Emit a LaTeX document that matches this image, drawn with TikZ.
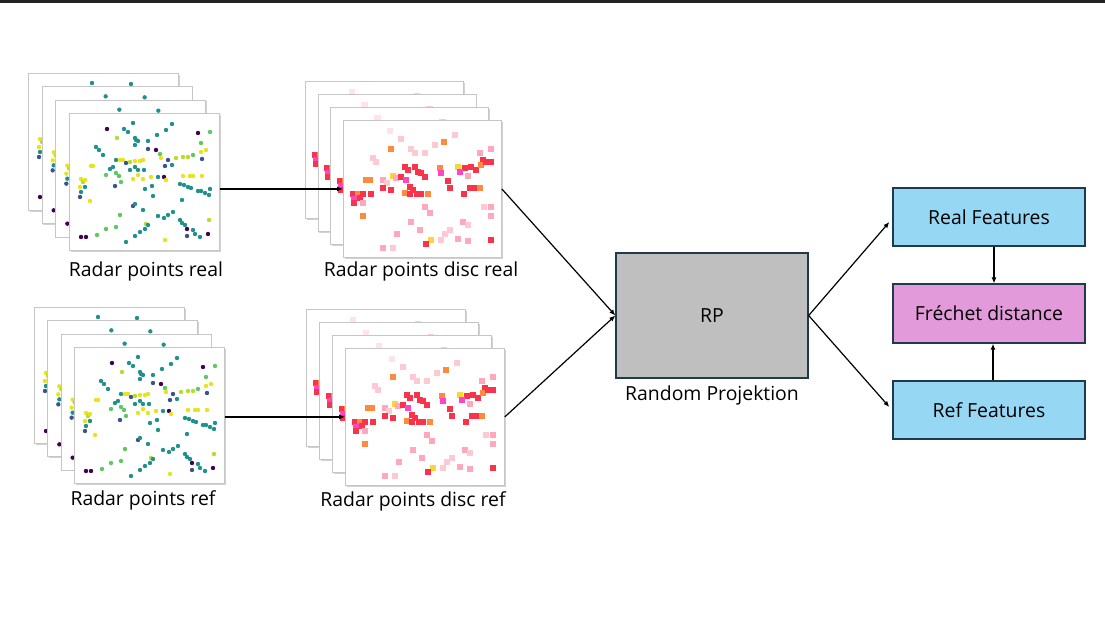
\documentclass[tikz,border=0pt]{standalone}
\usepackage{fontspec}
\setmainfont{Open Sans}
\usetikzlibrary{arrows.meta,shadows}
\definecolor{vP}{HTML}{440154}
\definecolor{vB}{HTML}{3B528B}
\definecolor{vT}{HTML}{21918C}
\definecolor{vL}{HTML}{5EC962}
\definecolor{vY}{HTML}{E8E419}
\definecolor{vYG}{HTML}{B5DE2B}
\definecolor{hL}{HTML}{FFE3E8}
\definecolor{hP}{HTML}{FFC9D3}
\definecolor{hK}{HTML}{FFA8BB}
\definecolor{hR}{HTML}{F8334A}
\definecolor{hO}{HTML}{FF8A3D}
\definecolor{hY}{HTML}{FFD43B}
\definecolor{hM}{HTML}{FF45C5}
\definecolor{boxline}{HTML}{1F3A4A}
\definecolor{rpfill}{HTML}{BFBFBF}
\definecolor{featfill}{HTML}{96D8F4}
\definecolor{frfill}{HTML}{E29ADB}
\definecolor{topbar}{HTML}{222222}
\newcommand\scatterdots{%
\foreach \x/\y/\c in {38/16/vP, 55/16/vT, 59/19/vT, 64/10/vT, 48/25/vYG, 66/25/vT, 67/27/vT, 69/28/vT, 79/28/vT, 88/22/vT, 97/17/vT, 103/11/vT, 129/20/vP, 141/19/vL, 132/30/vL, 27/34/vT, 30/37/vT, 34/42/vT, 66/32/vT, 79/36/vB, 87/37/vP, 91/41/vL, 92/45/vY, 99/47/vB, 96/53/vB, 103/52/vT, 107/45/vYG, 114/44/vYG, 119/44/vYG, 124/42/vL, 132/39/vY, 137/37/vY, 133/46/vB, 22/53/vY, 24/53/vY, 12/66/vY, 14/69/vYG, 11/74/vY, 16/67/vY, 47/47/vT, 51/47/vY, 54/47/vY, 57/50/vB, 61/49/vYG, 66/48/vY, 71/48/vY, 74/47/vY, 41/56/vT, 44/54/vT, 37/62/vL, 47/60/vL, 50/63/vL, 52/69/vL, 61/57/vT, 66/54/vT, 69/57/vT, 64/66/vY, 69/62/vY, 74/66/vY, 75/57/vT, 82/64/vY, 89/64/vT, 95/64/vP, 97/67/vY, 114/63/vY, 121/63/vY, 124/63/vY, 133/63/vY, 16/74/vT, 12/79/vT, 11/84/vB, 21/88/vY, 46/73/vB, 76/76/vT, 83/73/vT, 84/83/vT, 111/71/vT, 115/72/vT, 119/74/vT, 122/75/vT, 129/78/vT, 132/78/vT, 136/80/vT, 140/82/vT, 141/76/vT, 64/93/vB, 66/91/vT, 74/97/vT, 51/102/vL, 89/103/vT, 95/105/vT, 99/102/vT, 104/99/vT, 113/87/vT, 111/107/vT, 113/110/vT, 116/112/vT, 118/116/vP, 124/117/vT, 77/111/vYG, 79/112/vT, 76/116/vT, 71/119/vT, 66/123/vT, 57/129/vT, 47/114/vL, 37/116/vL, 28/122/vL, 12/124/vP, 17/124/vP, 96/127/vY, 126/121/vT, 131/124/vT, 139/121/vP, 140/107/vYG, 118/123/vB}{\fill[\c] (\x,\y) circle[radius=2.2pt];}}
\newcommand\heatcells{%
\foreach \x/\y/\c in {47/11/hL, 58/19/hP, 48/29/hO, 68/29/hP, 72/33/hP, 82/33/hP, 92/25/hP, 101/22/hO, 112/15/hP, 148/29/hK, 30/38/hP, 33/42/hP, 137/33/hK, 140/40/hR, 148/42/hR, 62/47/hR, 65/50/hR, 72/47/hR, 75/52/hR, 78/53/hR, 82/57/hR, 97/48/hO, 98/53/hM, 115/47/hY, 122/48/hR, 128/47/hR, 133/50/hR, 138/45/hO, 143/42/hR, 117/52/hM, 125/56/hK, 50/56/hY, 53/58/hK, 58/57/hR, 23/60/hO, 27/60/hO, 40/60/hK, 44/63/hP, 40/68/hR, 48/70/hR, 63/60/hM, 67/67/hR, 70/70/hR, 62/73/hO, 67/74/hR, 74/74/hR, 78/74/hR, 85/74/hO, 10/74/hR, 15/74/hO, 20/74/hR, 28/74/hR, 11/79/hM, 17/78/hR, 11/83/hR, 20/83/hK, 107/68/hR, 105/61/hR, 127/68/hR, 132/68/hR, 137/68/hO, 121/74/hR, 20/96/hO, 148/87/hK, 148/96/hK, 141/87/hP, 82/87/hK, 87/93/hK, 68/102/hK, 77/110/hK, 120/102/hK, 125/105/hP, 107/110/hP, 102/114/hP, 88/120/hY, 98/120/hP, 54/114/hK, 83/124/hR, 115/119/hK, 125/121/hK, 148/120/hR, 40/128/hK, 50/128/hP}{\fill[\c] (\x-3.4,\y-3.4) rectangle ++(6.8,6.8);}}
% #1 prefix, #2 x0, #3 y0, #4 w, #5 h, #6 dx, #7 dy, #8 content
\newcommand\mystack[8]{%
\foreach \k/\nm in {0/a,1/b,2/c,3/d}{%
  \node[plotframe, minimum width=#4pt, minimum height=#5pt, anchor=north west] (#1\nm) at ({#2+#6*\k},{#3+#7*\k}) {};
  \begin{scope}[shift={(#1\nm.north west)}] #8 \end{scope}}}
\begin{document}
\begin{tikzpicture}[x=1pt,y=-1pt,
  every node/.style={font=\fontsize{19.4}{23}\selectfont},
  plotframe/.style={draw=gray!45, line width=0.8pt, fill=white, inner sep=0pt,
    drop shadow={shadow xshift=1.2pt, shadow yshift=-1.2pt, opacity=0.35}},
  procbox/.style={draw=boxline, line width=1.3pt, inner sep=0pt},
  lbl/.style={inner sep=0pt},
  arr/.style={line width=1.2pt, -{Latex[length=6pt,width=5pt]}}]
\useasboundingbox (0,0) rectangle (1105,633);
\fill[white] (0,0) rectangle (1105,633);
\fill[topbar] (0,0) rectangle (1105,3);
% stacks
\mystack{s1}{28}{73}{150}{137}{13.67}{13.33}{\scatterdots}
\mystack{s2}{34}{307}{150}{136}{13.33}{13.33}{\scatterdots}
\mystack{h1}{305}{81}{158}{137}{12.67}{13}{\heatcells}
\mystack{h2}{306}{309}{159}{137}{13}{13}{\heatcells}
% labels
\node[lbl] (l1) at (146,271) {Radar points real};
\node[lbl] (l2) at (421,271) {Radar points disc real};
\node[lbl] (l3) at (143,500) {Radar points ref};
\node[lbl] (l4) at (413,501) {Radar points disc ref};
% process boxes
\node[procbox, fill=rpfill, minimum width=192pt, minimum height=125pt] (rp) at (712,315.5) {RP};
\node[lbl] (rpl) at (712,395) {Random Projektion};
\node[procbox, fill=featfill, minimum width=192pt, minimum height=58pt] (rf) at (989,217) {Real Features};
\node[procbox, fill=frfill, minimum width=192pt, minimum height=59pt] (fd) at (989,313.5) {Fréchet distance};
\node[procbox, fill=featfill, minimum width=192pt, minimum height=58pt] (ff) at (989,410) {Ref Features};
% connectors
\draw[arr] (s1d.east |- h1d.west) -- (h1d.west);
\draw[arr] (s2d.east |- h2d.west) -- (h2d.west);
\draw[arr] (h1d.east) -- (rp.west);
\draw[arr] (h2d.east) -- (rp.west);
\draw[arr] (rp.east) -- ([xshift=-3pt,yshift=-5pt]rf.west);
\draw[arr] (rp.east) -- ([xshift=-3pt,yshift=3pt]ff.west);
\draw[arr] ([xshift=5pt]rf.south) -- ([xshift=5pt]fd.north);
\draw[arr] ([xshift=4pt]ff.north) -- ([xshift=4pt]fd.south);
\end{tikzpicture}
\end{document}
